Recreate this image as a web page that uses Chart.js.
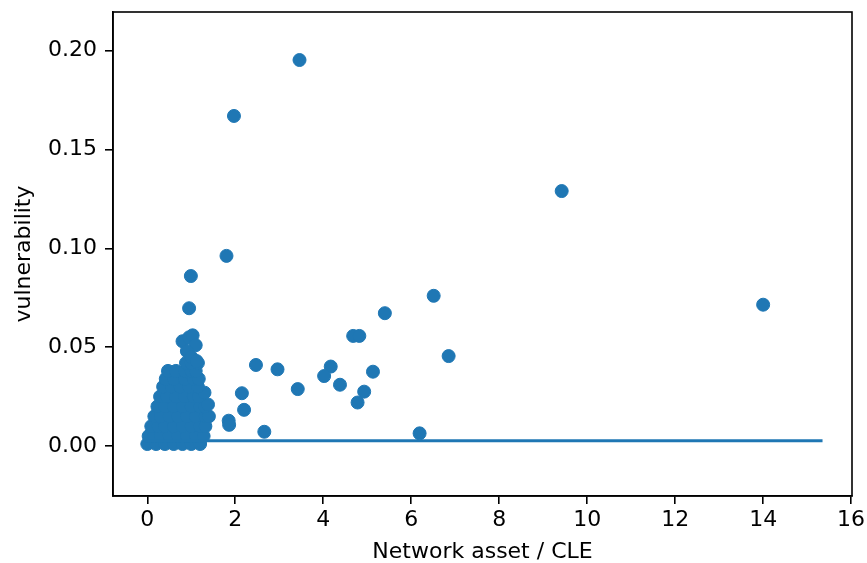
<!DOCTYPE html>
<html>
<head>
<meta charset="utf-8">
<script src="https://cdn.jsdelivr.net/npm/chart.js@4.4.1/dist/chart.umd.min.js"></script>
<style>
  body { margin: 0; background: #fff; }
  canvas { display: block; }
</style>
</head>
<body>
<canvas id="myChart" width="867" height="563"></canvas>
<script>
// scattered entities (x = network asset / CLE, y = vulnerability)
var spreadX = [3.46, 1.97, 9.42, 14.0, 1.80, 0.99, 0.95, 6.51, 5.40, 6.85, 4.68, 4.82, 2.47, 2.96,
  4.17, 4.02, 4.38, 3.42, 5.13, 4.93, 4.78, 2.15, 2.20, 1.85, 1.86, 2.66, 6.19];
var spreadY = [0.1953, 0.1670, 0.1290, 0.0715, 0.0962, 0.0860, 0.0697, 0.0760, 0.0672, 0.0455, 0.0557, 0.0557, 0.0410, 0.0388,
  0.0402, 0.0354, 0.0310, 0.0288, 0.0376, 0.0275, 0.0220, 0.0267, 0.0183, 0.0128, 0.0107, 0.0072, 0.0064];

// dense group of small entities near the origin
var clusterX = [0.0, 0.2, 0.4, 0.6, 0.8, 1.0, 1.2,
  0.03, 0.15, 0.3, 0.5, 0.7, 0.9, 1.1, 1.28,
  0.09, 0.25, 0.4, 0.6, 0.8, 1.0, 1.2, 1.32,
  0.16, 0.3, 0.5, 0.7, 0.9, 1.1, 1.32, 1.4,
  0.23, 0.4, 0.6, 0.8, 1.0, 1.2, 1.31, 1.38,
  0.29, 0.45, 0.65, 0.85, 1.05, 1.17, 1.3,
  0.36, 0.55, 0.75, 0.95, 1.15,
  0.42, 0.6, 0.85, 1.05, 1.17,
  0.47, 0.65, 0.85, 1.0, 1.1,
  0.88, 1.0, 1.15,
  0.8, 0.95, 1.03, 1.1, 0.9, 1.0, 1.12];
var clusterY = [0.001, 0.001, 0.001, 0.001, 0.001, 0.001, 0.001,
  0.005, 0.005, 0.005, 0.005, 0.005, 0.005, 0.005, 0.005,
  0.010, 0.010, 0.010, 0.010, 0.010, 0.010, 0.010, 0.010,
  0.015, 0.015, 0.015, 0.015, 0.015, 0.015, 0.015, 0.015,
  0.020, 0.020, 0.020, 0.020, 0.020, 0.020, 0.020, 0.021,
  0.025, 0.025, 0.025, 0.025, 0.025, 0.025, 0.027,
  0.030, 0.030, 0.030, 0.030, 0.030,
  0.034, 0.034, 0.034, 0.034, 0.034,
  0.038, 0.038, 0.038, 0.038, 0.038,
  0.042, 0.042, 0.042,
  0.053, 0.055, 0.056, 0.051, 0.048, 0.045, 0.043];

// horizontal reference line
var lineX = [0, 15.35];
var lineY = [0.0027, 0.0027];

var xTicks = [0, 2, 4, 6, 8, 10, 12, 14, 16];
var yTicks = [0.00, 0.05, 0.10, 0.15, 0.20];

var blue = "#1f77b4";
var font = { family: "'DejaVu Sans', sans-serif", size: 22 };

function toPoints(xs, ys) {
  var pts = [];
  for (var i = 0; i < xs.length; i++) {
    pts.push({ x: xs[i], y: ys[i] });
  }
  return pts;
}

// top and right spines
var frame = {
  id: "frame",
  afterDraw: function (chart) {
    var a = chart.chartArea;
    var ctx = chart.ctx;
    ctx.save();
    ctx.strokeStyle = "#000";
    ctx.lineWidth = 1.6;
    ctx.strokeRect(a.left, a.top, a.right - a.left, a.bottom - a.top);
    ctx.restore();
  }
};

var chartdata = document.getElementById("myChart").getContext("2d");
var chart = new Chart(chartdata, {
  type: "scatter",
  data: {
    datasets: [
      {
        type: "line",
        data: toPoints(lineX, lineY),
        borderColor: blue,
        borderWidth: 3,
        pointRadius: 0,
        fill: false
      },
      {
        data: toPoints(spreadX.concat(clusterX), spreadY.concat(clusterY)),
        backgroundColor: blue,
        borderColor: blue,
        borderWidth: 1,
        pointRadius: 6.5,
        pointHoverRadius: 6.5
      }
    ]
  },
  options: {
    responsive: false,
    animation: false,
    layout: { padding: { left: 0, right: 15, top: 12, bottom: 0 } },
    plugins: { legend: { display: false }, tooltip: { enabled: false } },
    scales: {
      x: {
        type: "linear",
        min: -0.78,
        max: 16.02,
        afterBuildTicks: function (scale) {
          scale.ticks = xTicks.map(function (v) { return { value: v }; });
        },
        afterFit: function (scale) {
          scale.height = 67;
          scale.paddingLeft = 0;
          scale.paddingRight = 0;
        },
        grid: { drawOnChartArea: false, drawTicks: true, tickLength: 8, color: "#000", lineWidth: 1.6 },
        border: { display: true, color: "#000", width: 1.6 },
        ticks: { font: font, color: "#000", padding: 3, maxRotation: 0, autoSkip: false,
          callback: function (v) { return String(v); } },
        title: { display: true, text: "Network asset / CLE", color: "#000",
          font: { family: font.family, size: 22, lineHeight: 1 }, padding: { top: 0, bottom: 0 } }
      },
      y: {
        type: "linear",
        min: -0.0253,
        max: 0.2196,
        afterBuildTicks: function (scale) {
          scale.ticks = yTicks.map(function (v) { return { value: v }; });
        },
        afterFit: function (scale) {
          scale.width = 113;
          scale.paddingTop = 0;
          scale.paddingBottom = 0;
        },
        grid: { drawOnChartArea: false, drawTicks: true, tickLength: 8, color: "#000", lineWidth: 1.6 },
        border: { display: true, color: "#000", width: 1.6 },
        ticks: { font: font, color: "#000", padding: 8, autoSkip: false,
          callback: function (v) { return v.toFixed(2); } },
        title: { display: true, text: "vulnerability", color: "#000",
          font: { family: font.family, size: 22, lineHeight: 1 }, padding: { top: 13, bottom: 0 } }
      }
    }
  },
  plugins: [frame]
});
</script>
</body>
</html>
